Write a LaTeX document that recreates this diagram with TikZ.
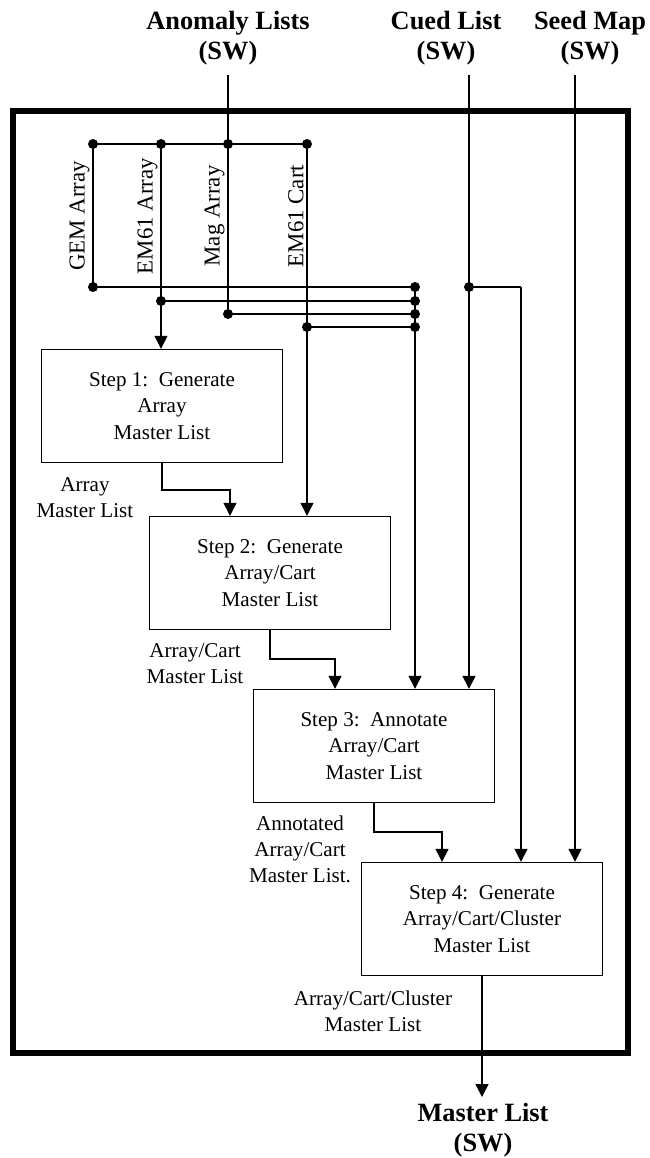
\documentclass[tikz,border=0pt]{standalone}
\usepackage{fontspec}
\setmainfont{Liberation Serif}
\usetikzlibrary{arrows.meta,positioning}

\begin{document}
\begin{tikzpicture}[x=0.02cm,y=-0.02cm,line width=0.8pt,
    stepbox/.style={draw,line width=0.8pt,minimum width=4.82cm,minimum height=2.26cm,
        align=center,font=\fontsize{12}{15}\selectfont},
    lbl/.style={align=center,font=\fontsize{12}{14.7}\selectfont},
    ttl/.style={align=center,font=\fontsize{15}{17}\selectfont\bfseries},
    vlbl/.style={rotate=90,anchor=south,inner sep=1.5pt,font=\fontsize{13}{15}\selectfont},
    flow/.style={-{Triangle[width=0.26cm,length=0.26cm]}}]
    \useasboundingbox (0,0) rectangle (649,1158);
    \draw[line width=3.2pt] (13,111) rectangle (628,1053);
    %% inputs
    \node[ttl] (tAnom) at (228,38) {Anomaly Lists\\(SW)};
    \node[ttl] (tCued) at (446,38) {Cued List\\(SW)};
    \node[ttl] (tSeed) at (590,38) {Seed Map\\(SW)};
    \node[ttl] (tMaster) at (483,1130) {Master List\\(SW)};
    %
    \coordinate (anomS) at (228,75);
    \coordinate (cuedS) at (469,75);
    \coordinate (seedS) at (575,75);
    \coordinate (gemT) at (93,144);
    \coordinate (emaT) at (161,144);
    \coordinate (magT) at (228,144);
    \coordinate (emcT) at (307,144);
    \coordinate (gemB) at (93,287);
    \coordinate (emaB) at (161,301);
    \coordinate (magB) at (228,314);
    \coordinate (emcB) at (307,327);
    \coordinate (colA) at (415,287);
    \coordinate (colB) at (415,301);
    \coordinate (colC) at (415,314);
    \coordinate (colD) at (415,327);
    \coordinate (cuedJ) at (469,287);
    \coordinate (cuedR) at (521,287);
    %
    \node[vlbl] (lGem) at (93,216) {GEM Array};
    \node[vlbl] (lEma) at (161,216) {EM61 Array};
    \node[vlbl] (lMag) at (228,216) {Mag Array};
    \node[vlbl] (lEmc) at (307,216) {EM61 Cart};
    %% steps
    \node[stepbox] (s1) at (162,406) {Step 1:~~Generate\\Array\\Master List};
    \node[stepbox] (s2) at (270,573) {Step 2:~~Generate\\Array/Cart\\Master List};
    \node[stepbox] (s3) at (374,746) {Step 3:~~Annotate\\Array/Cart\\Master List};
    \node[stepbox] (s4) at (482,919) {Step 4:~~Generate\\Array/Cart/Cluster\\Master List};
    %
    \node[lbl] (lArr) at (85,498) {Array\\Master List};
    \node[lbl] (lArrC) at (195,664) {Array/Cart\\Master List};
    \node[lbl] (lAnn) at (300,849) {Annotated\\Array/Cart\\Master List.};
    \node[lbl] (lClu) at (373,1011) {Array/Cart/Cluster\\Master List};
    %% wiring
    \draw (anomS) -- (magB);
    \draw (gemT) -- (emcT);
    \draw (gemT) -- (gemB) -- (colA);
    \draw (emaB) -- (colB);
    \draw (magB) -- (colC);
    \draw (emcB) -- (colD);
    \draw[flow] (emaT) -- (emaT |- s1.north);
    \draw[flow] (emcT) -- (emcT |- s2.north);
    \draw[flow] (colA) -- (colA |- s3.north);
    \draw[flow] (cuedS) -- (cuedS |- s3.north);
    \draw (cuedJ) -- (cuedR);
    \draw[flow] (cuedR) -- (cuedR |- s4.north);
    \draw[flow] (seedS) -- (seedS |- s4.north);
    \foreach \p in {gemT,emaT,magT,emcT,gemB,emaB,magB,emcB,colA,colB,colC,colD,cuedJ}
        \fill (\p) circle (0.1cm);
    %
    \coordinate (k1) at (230,490);
    \coordinate (k2) at (335,659);
    \coordinate (k3) at (442,832);
    \coordinate (outT) at (482,1097);
    \draw[flow] (s1.south) |- (k1) -- (k1 |- s2.north);
    \draw[flow] (s2.south) |- (k2) -- (k2 |- s3.north);
    \draw[flow] (s3.south) |- (k3) -- (k3 |- s4.north);
    \draw[flow] (s4.south) -- (outT);
\end{tikzpicture}
\end{document}
